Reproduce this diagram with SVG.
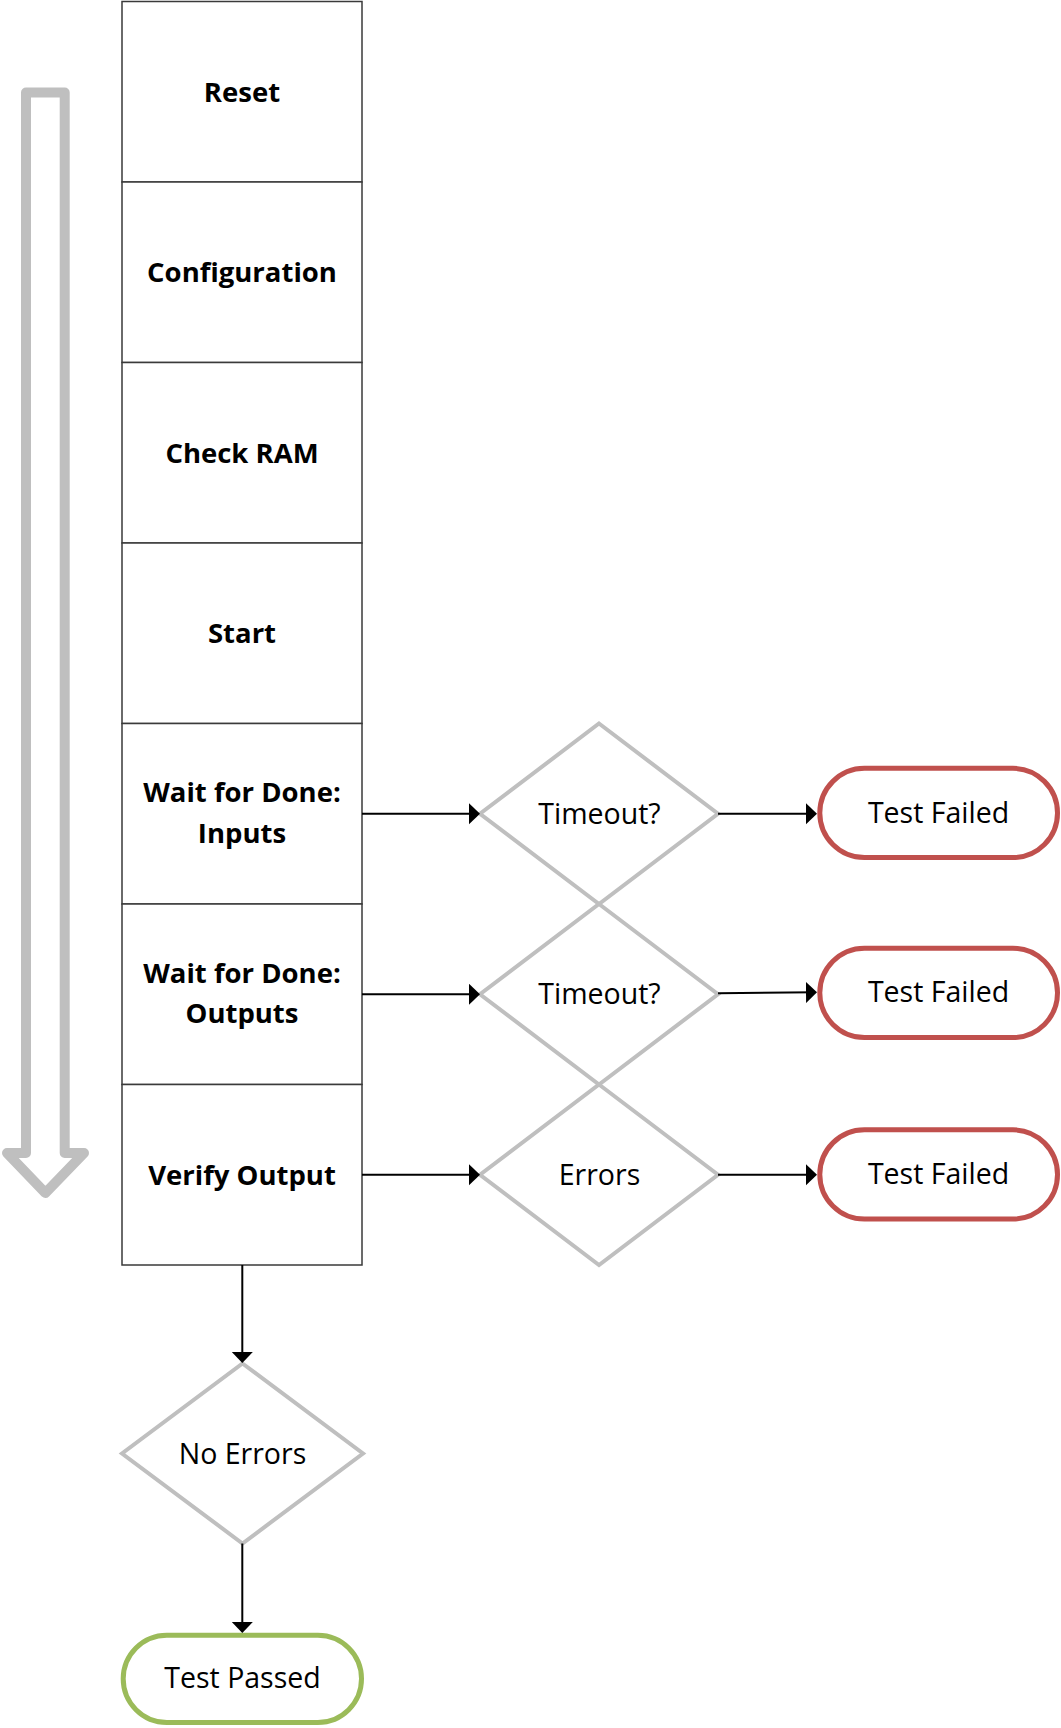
<svg xmlns="http://www.w3.org/2000/svg" width="1061" height="1728" viewBox="0 0 1061 1728">
<defs>
<style>
.box{fill:#fff;stroke:#3a3a3a;stroke-width:1.5}
.bt{font-family:"Open Sans","Liberation Sans",sans-serif;font-weight:bold;font-size:27.5px;fill:#000;text-anchor:middle}
.rt{font-family:"Open Sans","Liberation Sans",sans-serif;font-size:28.5px;fill:#000;text-anchor:middle}
.dia{fill:#fff;stroke:#bfbfbf;stroke-width:4;stroke-linejoin:miter}
.fail{fill:#fff;stroke:#c0504d;stroke-width:5}
.pass{fill:#fff;stroke:#9bbb59;stroke-width:5}
.con{fill:none;stroke:#000;stroke-width:2;marker-end:url(#ah)}
</style>
<marker id="ah" markerUnits="userSpaceOnUse" markerWidth="12" markerHeight="22" refX="9" refY="10.5" orient="auto" viewBox="0 0 12 22">
<path d="M0,0 L11,10.5 L0,21 z" fill="#000"/>
</marker>
</defs>
<rect width="1061" height="1728" fill="#fff"/>
<g id="flow-arrow">
<path d="M26,92.5 L64.7,92.5 L64.7,1153 L84,1153 L45.4,1193 L7,1153 L26,1153 Z" fill="none" stroke="#bfbfbf" stroke-width="10" stroke-linejoin="round"/>
</g>
<g id="reset"><rect class="box" x="122" y="1.5" width="240" height="180.5"/><text class="bt" x="242" y="101.5">Reset</text></g>
<g id="configuration"><rect class="box" x="122" y="182" width="240" height="180.5"/><text class="bt" x="242" y="282">Configuration</text></g>
<g id="check-ram"><rect class="box" x="122" y="362.5" width="240" height="180.5"/><text class="bt" x="242" y="462.5">Check RAM</text></g>
<g id="start"><rect class="box" x="122" y="543" width="240" height="180.5"/><text class="bt" x="242" y="643">Start</text></g>
<g id="wait-inputs"><rect class="box" x="122" y="723.5" width="240" height="180.5"/><text class="bt" x="242" y="801.7">Wait for Done:</text><text class="bt" x="242" y="842.7">Inputs</text></g>
<g id="wait-outputs"><rect class="box" x="122" y="904" width="240" height="180.5"/><text class="bt" x="242" y="982.7">Wait for Done:</text><text class="bt" x="242" y="1023.2">Outputs</text></g>
<g id="verify-output"><rect class="box" x="122" y="1084.5" width="240" height="180.5"/><text class="bt" x="242" y="1184.5">Verify Output</text></g>
<g id="timeout1"><polygon class="dia" points="599,723.5 718,813.75 599,904 480,813.75"/><text class="rt" x="599.5" y="823.5">Timeout?</text></g>
<g id="timeout2"><polygon class="dia" points="599,904 718,994.25 599,1084.5 480,994.25"/><text class="rt" x="599.5" y="1004">Timeout?</text></g>
<g id="errors"><polygon class="dia" points="599,1084.5 718,1174.75 599,1265 480,1174.75"/><text class="rt" x="599.5" y="1184.5">Errors</text></g>
<g id="no-errors"><polygon class="dia" points="242.5,1363.5 363,1453.5 242.5,1543.5 122,1453.5"/><text class="rt" x="242.5" y="1463.5">No Errors</text></g>
<g id="fail1"><rect class="fail" x="819.8" y="768.3" width="237.7" height="89.3" rx="44.65"/><text class="rt" x="938.5" y="822.5">Test Failed</text></g>
<g id="fail2"><rect class="fail" x="819.8" y="948.2" width="237.7" height="89.3" rx="44.65"/><text class="rt" x="938.5" y="1002.3">Test Failed</text></g>
<g id="fail3"><rect class="fail" x="819.8" y="1129.8" width="237.7" height="89.3" rx="44.65"/><text class="rt" x="938.5" y="1184">Test Failed</text></g>
<g id="passed"><rect class="pass" x="123.2" y="1635.2" width="238.3" height="87.3" rx="43.65"/><text class="rt" x="242.5" y="1688">Test Passed</text></g>
<g id="connectors">
<line class="con" x1="362" y1="813.75" x2="478" y2="813.75"/>
<line class="con" x1="718" y1="813.75" x2="815" y2="813.75"/>
<line class="con" x1="362" y1="994.25" x2="478" y2="994.25"/>
<line class="con" x1="718" y1="993.3" x2="815" y2="992.3"/>
<line class="con" x1="362" y1="1174.75" x2="478" y2="1174.75"/>
<line class="con" x1="718" y1="1174.75" x2="815" y2="1174.75"/>
<line class="con" x1="242.3" y1="1265" x2="242.3" y2="1361"/>
<line class="con" x1="242.3" y1="1543.5" x2="242.3" y2="1631"/>
</g>
</svg>
